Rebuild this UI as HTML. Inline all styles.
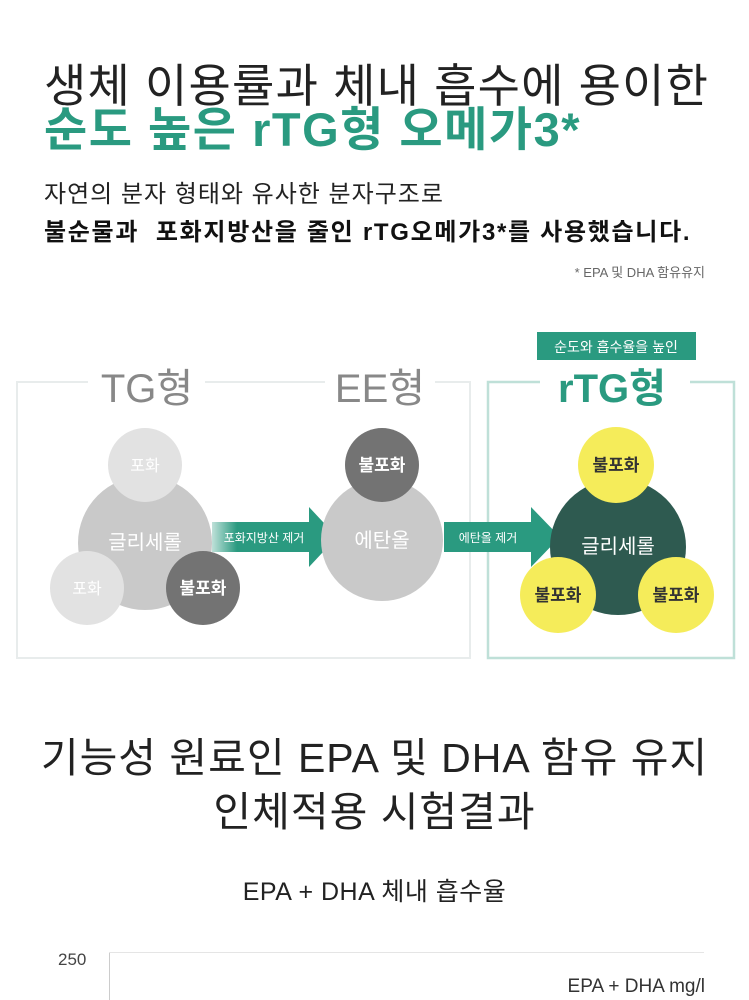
<!DOCTYPE html>
<html><head><meta charset="utf-8"><style>
body{margin:0;width:749px;height:1000px;overflow:hidden;background:#fff;font-family:"Liberation Sans","Noto Sans CJK KR",sans-serif;}
.t{position:absolute;white-space:nowrap;}
</style></head><body>
<div class="t" style="left:44px;top:50px;font-size:46px;color:#222;letter-spacing:1.2px;">생체 이용률과 체내 흡수에 용이한</div>
<div class="t" style="left:44px;top:91px;font-size:47px;color:#2a9a80;font-weight:bold;letter-spacing:1.5px;">순도 높은 rTG형 오메가3*</div>
<div class="t" style="left:44px;top:174px;font-size:24px;color:#222;letter-spacing:1px;">자연의 분자 형태와 유사한 분자구조로</div>
<div class="t" style="left:44px;top:212px;font-size:24px;color:#111;font-weight:bold;letter-spacing:1.7px;">불순물과&nbsp; 포화지방산을 줄인 rTG오메가3*를 사용했습니다.</div>
<div class="t" style="right:44px;top:262px;font-size:13px;color:#666;">* EPA 및 DHA 함유유지</div>

<svg style="position:absolute;left:0;top:0" width="749" height="700" font-family="Liberation Sans, Noto Sans CJK KR, sans-serif">
<defs><linearGradient id="ag" x1="0" x2="1"><stop offset="0" stop-color="#2a9a80" stop-opacity="0.3"/><stop offset="0.2" stop-color="#2a9a80"/></linearGradient></defs>
<path d="M88 382 H17 V658 H470 V382 H435 M205 382 H325 M440 382 H470" fill="none" stroke="#e8ecec" stroke-width="2"/>
<path d="M540 382 H488 V658 H734 V382 H690" fill="none" stroke="#bfe0d8" stroke-width="2.5"/>
<rect x="537" y="332" width="159" height="28" fill="#2a9a80"/>
<text x="616" y="352" font-size="14" fill="#fff" text-anchor="middle">순도와 흡수율을 높인</text>
<text x="147" y="402" font-size="40" fill="#888" text-anchor="middle">TG형</text>
<text x="380" y="402" font-size="40" fill="#888" text-anchor="middle">EE형</text>
<text x="612" y="402" font-size="40" fill="#2a9a80" font-weight="bold" text-anchor="middle">rTG형</text>
<circle cx="145" cy="543" r="67" fill="#c9c9c9"/>
<circle cx="145" cy="465" r="37" fill="#e2e2e2"/>
<circle cx="87" cy="588" r="37" fill="#e2e2e2"/>
<circle cx="203" cy="588" r="37" fill="#737373"/>
<text x="145" y="471" font-size="16" fill="#fff" text-anchor="middle">포화</text>
<text x="145" y="549" font-size="20" fill="#fff" text-anchor="middle">글리세롤</text>
<text x="87" y="594" font-size="16" fill="#fff" text-anchor="middle">포화</text>
<text x="203" y="594" font-size="17" fill="#fff" font-weight="bold" text-anchor="middle">불포화</text>
<path d="M212 522 H309 V507 L337 537 L309 567 V552 H212Z" fill="url(#ag)"/>
<text x="264" y="542" font-size="12" fill="#fff" text-anchor="middle">포화지방산 제거</text>
<circle cx="382" cy="540" r="61" fill="#c9c9c9"/>
<circle cx="382" cy="465" r="37" fill="#737373"/>
<text x="382" y="471" font-size="17" fill="#fff" font-weight="bold" text-anchor="middle">불포화</text>
<text x="382" y="547" font-size="20" fill="#fff" text-anchor="middle">에탄올</text>
<path d="M444 522 H531 V507 L560 537 L531 567 V552 H444Z" fill="#2a9a80"/>
<text x="488" y="542" font-size="12" fill="#fff" text-anchor="middle">에탄올 제거</text>
<circle cx="618" cy="547" r="68" fill="#2e5a50"/>
<text x="618" y="553" font-size="20" fill="#fff" text-anchor="middle">글리세롤</text>
<circle cx="616" cy="465" r="38" fill="#f5ec5a"/>
<circle cx="558" cy="595" r="38" fill="#f5ec5a"/>
<circle cx="676" cy="595" r="38" fill="#f5ec5a"/>
<text x="616" y="471" font-size="17" fill="#333" font-weight="bold" text-anchor="middle">불포화</text>
<text x="558" y="601" font-size="17" fill="#333" font-weight="bold" text-anchor="middle">불포화</text>
<text x="676" y="601" font-size="17" fill="#333" font-weight="bold" text-anchor="middle">불포화</text>
</svg>

<div class="t" style="left:0;width:749px;text-align:center;top:724px;font-size:41px;color:#222;letter-spacing:1px;">기능성 원료인 EPA 및 DHA 함유 유지</div>
<div class="t" style="left:0;width:749px;text-align:center;top:778px;font-size:41px;color:#222;letter-spacing:1px;">인체적용 시험결과</div>
<div class="t" style="left:0;width:749px;text-align:center;top:872px;font-size:25px;color:#222;letter-spacing:0.5px;">EPA + DHA 체내 흡수율</div>
<div class="t" style="left:58px;top:950px;font-size:17px;color:#444;">250</div>
<div style="position:absolute;left:109px;top:952px;width:1px;height:48px;background:#ccc"></div>
<div style="position:absolute;left:109px;top:952px;width:595px;height:1px;background:#e5e5e5"></div>
<div class="t" style="right:44px;top:976px;font-size:19px;color:#333;">EPA + DHA mg/l</div>
</body></html>
